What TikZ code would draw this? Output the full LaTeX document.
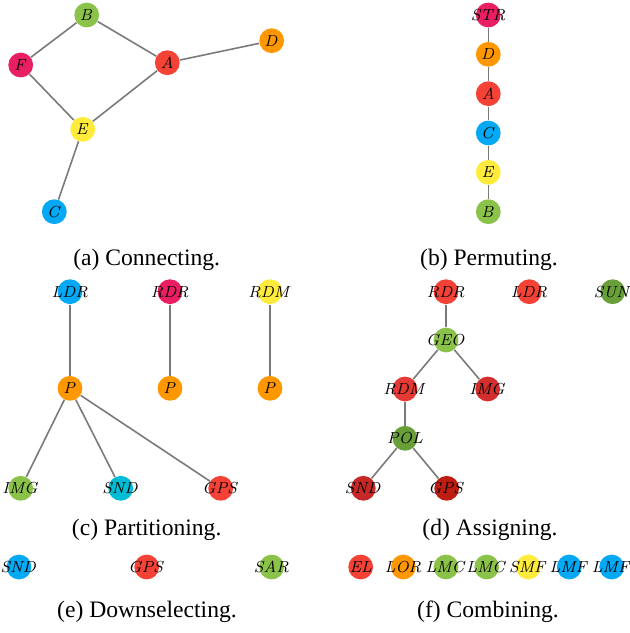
\documentclass[tikz,border=0pt]{standalone}
\usepackage[no-math]{fontspec}
\setmainfont{Liberation Serif}
\definecolor{mred}{HTML}{F44336}
\definecolor{mgreen}{HTML}{8BC34A}
\definecolor{mdgreen}{HTML}{689F38}
\definecolor{mblue}{HTML}{03A9F4}
\definecolor{morange}{HTML}{FF9800}
\definecolor{myellow}{HTML}{FFEB3B}
\definecolor{mpink}{HTML}{E91E63}
\definecolor{mcyan}{HTML}{00BCD4}
\definecolor{mredA}{HTML}{E53935}
\definecolor{mredB}{HTML}{D32F2F}
\definecolor{mredC}{HTML}{C62828}
\definecolor{mredD}{HTML}{BE1E12}
\definecolor{edgegray}{HTML}{7A7A7A}
\newcommand{\vlab}[1]{\makebox[0pt]{$\mathit{#1}$}}
\tikzset{
  vert/.style={circle, draw=none, fill=#1, inner sep=0pt, minimum size=12.4pt,
    font=\fontsize{8.4}{9}\selectfont},
  link/.style={draw=edgegray, line width=0.8pt},
  capt/.style={anchor=base, inner sep=0pt, font=\fontsize{11.8}{14}\selectfont}
}
\begin{document}
\begin{tikzpicture}[x=0.5pt, y=-0.5pt]
\useasboundingbox (0,0) rectangle (629,633);
% (a) Connecting
\node[vert=mgreen] (aB) at (86.7,15) {\vlab{B}};
\node[vert=morange] (aD) at (271.7,40.7) {\vlab{D}};
\node[vert=mpink] (aF) at (20.7,65) {\vlab{F}};
\node[vert=mred] (aA) at (167.3,62.7) {\vlab{A}};
\node[vert=myellow] (aE) at (82.7,129.3) {\vlab{E}};
\node[vert=mblue] (aC) at (54.3,211.7) {\vlab{C}};
\draw[link] (aB) -- (aF);
\draw[link] (aB) -- (aA);
\draw[link] (aA) -- (aD);
\draw[link] (aA) -- (aE);
\draw[link] (aF) -- (aE);
\draw[link] (aE) -- (aC);
\node[capt] (capa) at (146.7,265) {(a) Connecting.};
% (b) Permuting
\node[vert=mpink] (bS) at (488.3,15) {\vlab{STR}};
\node[vert=morange] (bD) at (488.3,54.3) {\vlab{D}};
\node[vert=mred] (bA) at (488.3,93.7) {\vlab{A}};
\node[vert=mblue] (bC) at (488.3,133) {\vlab{C}};
\node[vert=myellow] (bE) at (488.3,172.3) {\vlab{E}};
\node[vert=mgreen] (bB) at (488.3,211.7) {\vlab{B}};
\draw[link] (bS) -- (bD);
\draw[link] (bD) -- (bA);
\draw[link] (bA) -- (bC);
\draw[link] (bC) -- (bE);
\draw[link] (bE) -- (bB);
\node[capt] (capb) at (489,265) {(b) Permuting.};
% (c) Partitioning
\node[vert=mblue] (cL) at (70,291.7) {\vlab{LDR}};
\node[vert=mpink] (cR) at (170,291.7) {\vlab{RDR}};
\node[vert=myellow] (cM) at (270,291.7) {\vlab{RDM}};
\node[vert=morange] (cP1) at (70,388.3) {\vlab{P}};
\node[vert=morange] (cP2) at (170,388.3) {\vlab{P}};
\node[vert=morange] (cP3) at (270,388.3) {\vlab{P}};
\node[vert=mgreen] (cI) at (20.7,488.3) {\vlab{IMG}};
\node[vert=mcyan] (cS) at (120.7,488.3) {\vlab{SND}};
\node[vert=mred] (cG) at (220.7,488.3) {\vlab{GPS}};
\draw[link] (cL) -- (cP1);
\draw[link] (cR) -- (cP2);
\draw[link] (cM) -- (cP3);
\draw[link] (cP1) -- (cI);
\draw[link] (cP1) -- (cS);
\draw[link] (cP1) -- (cG);
\node[capt] (capc) at (146.7,535) {(c) Partitioning.};
% (d) Assigning
\node[vert=mred] (dR) at (446,291.7) {\vlab{RDR}};
\node[vert=mred] (dL) at (529.3,291.7) {\vlab{LDR}};
\node[vert=mdgreen] (dU) at (612.7,291.7) {\vlab{SUN}};
\node[vert=mgreen] (dG) at (446,340) {\vlab{GEO}};
\node[vert=mredA] (dM) at (405,389) {\vlab{RDM}};
\node[vert=mredB] (dI) at (487.7,389) {\vlab{IMG}};
\node[vert=mdgreen] (dP) at (405,438.3) {\vlab{POL}};
\node[vert=mredC] (dS) at (363.3,488.3) {\vlab{SND}};
\node[vert=mredD] (dX) at (446.7,488.3) {\vlab{GPS}};
\draw[link] (dR) -- (dG);
\draw[link] (dG) -- (dM);
\draw[link] (dG) -- (dI);
\draw[link] (dM) -- (dP);
\draw[link] (dP) -- (dS);
\draw[link] (dP) -- (dX);
\node[capt] (capd) at (490,535) {(d) Assigning.};
% (e) Downselecting
\node[vert=mblue] (eS) at (19,567) {\vlab{SND}};
\node[vert=mred] (eG) at (146.7,567) {\vlab{GPS}};
\node[vert=mgreen] (eA) at (271.7,567) {\vlab{SAR}};
\node[capt] (cape) at (147,617) {(e) Downselecting.};
% (f) Combining
\node[vert=mred] (f1) at (360.7,567) {\vlab{EL}};
\node[vert=morange] (f2) at (403.3,567) {\vlab{LOR}};
\node[vert=mgreen] (f3) at (446,567) {\vlab{LMC}};
\node[vert=mgreen] (f4) at (486.7,567) {\vlab{LMC}};
\node[vert=myellow] (f5) at (528.3,567) {\vlab{SMF}};
\node[vert=mblue] (f6) at (569.3,567) {\vlab{LMF}};
\node[vert=mblue] (f7) at (611.7,567) {\vlab{LMF}};
\node[capt] (capf) at (488,617) {(f) Combining.};
\end{tikzpicture}
\end{document}
